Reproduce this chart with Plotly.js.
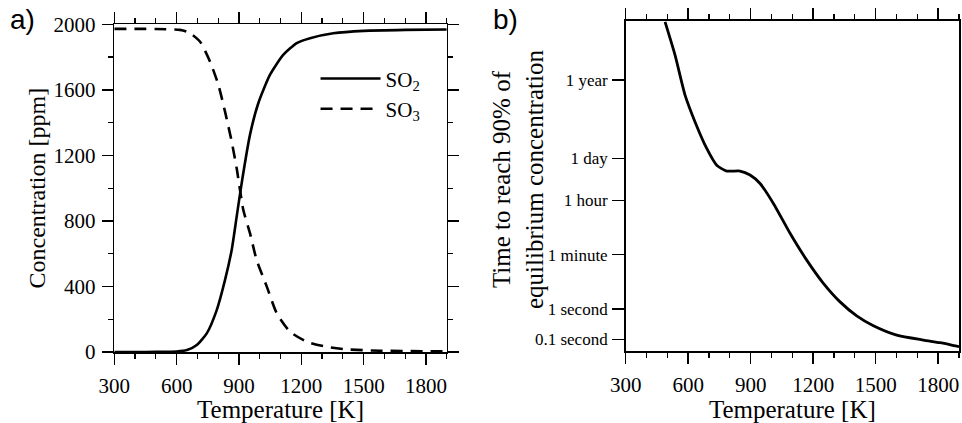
<!DOCTYPE html>
<html>
<head>
<meta charset="utf-8">
<script src="https://cdn.plot.ly/plotly-3.0.1.min.js"></script>
<style>html,body{margin:0;padding:0;background:#fff;}#chart{width:962px;height:423px;}</style>
</head>
<body>
<div id="chart"></div>
<script>
// Panel a) equilibrium concentrations
const tempSO2 = [300, 400, 500, 600, 650, 697, 745, 793, 833, 865, 889, 913, 953, 993, 1049, 1113, 1178, 1242, 1354, 1500, 1700, 1900];
const concSO2 = [0, 0, 1, 3, 12, 43, 114, 256, 440, 623, 826, 1030, 1325, 1518, 1691, 1813, 1885, 1915, 1945, 1960, 1966, 1968];
const tempSO3 = [300, 400, 500, 616, 656, 712, 761, 801, 833, 865, 889, 921, 953, 985, 1034, 1082, 1146, 1226, 1322, 1419, 1579, 1900];
const concSO3 = [1972, 1972, 1971, 1966, 1952, 1895, 1772, 1630, 1467, 1284, 1121, 867, 725, 562, 399, 236, 124, 63, 32, 16, 8, 4];

// Panel b) time to reach 90% of equilibrium (seconds)
const tempTime = [489, 537, 585, 633, 689, 737, 785, 849, 897, 945, 1009, 1089, 1169, 1249, 1329, 1409, 1489, 1601, 1729, 1809, 1889, 1900];
const timeSec = [2.57e9, 2.09e8, 1.02e7, 1.35e6, 1.82e5, 5.13e4, 3.31e4, 3.31e4, 2.45e4, 1.29e4, 2880, 302, 39.8, 6.9, 1.7, 0.59, 0.28, 0.138, 0.095, 0.078, 0.060, 0.058];

const xTickVals = [300, 600, 900, 1200, 1500, 1800];
const timeTickVals = [0.1, 1, 60, 3600, 86400, 31557600];
const timeTickText = ['0.1 second', '1 second', '1 minute', '1 hour', '1 day', '1 year'];

const serif = 'Liberation Serif';
const sans = 'Liberation Sans';

const traces = [
  {x: tempSO2, y: concSO2, type: 'scatter', mode: 'lines', name: 'SO<sub>2</sub>',
   line: {color: '#000', width: 2.6, shape: 'spline', smoothing: 0.6}, xaxis: 'x', yaxis: 'y'},
  {x: tempSO3, y: concSO3, type: 'scatter', mode: 'lines', name: 'SO<sub>3</sub>',
   line: {color: '#000', width: 2.6, dash: '12px,8px', shape: 'spline', smoothing: 0.6}, xaxis: 'x', yaxis: 'y'},
  {x: tempTime, y: timeSec, type: 'scatter', mode: 'lines', name: 'time', showlegend: false,
   line: {color: '#000', width: 2.8, shape: 'spline', smoothing: 0.6}, xaxis: 'x2', yaxis: 'y2'}
];

function xAxis(domain, anchor) {
  return {
    domain: domain, anchor: anchor, range: [300, 1900],
    tickvals: xTickVals, ticks: 'outside', ticklen: 11, tickwidth: 1.5, tickcolor: '#000',
    minor: {dtick: 100, tick0: 300, ticks: 'outside', ticklen: 5, tickwidth: 1.2, tickcolor: '#000'},
    showline: true, linewidth: 1.6, linecolor: '#000', mirror: 'allticks',
    showgrid: false, zeroline: false, ticklabelstandoff: 3,
    tickfont: {family: serif, size: 21, color: '#000'},
    title: {text: 'Temperature [K]', font: {family: serif, size: 25, color: '#000'}, standoff: 2}
  };
}

const layout = {
  width: 962, height: 423,
  margin: {l: 0, r: 0, t: 0, b: 0},
  font: {family: serif, color: '#000'},
  paper_bgcolor: '#fff', plot_bgcolor: '#fff',
  showlegend: true,
  legend: {x: 0.328, y: 0.862, xanchor: 'left', yanchor: 'top', bgcolor: 'rgba(0,0,0,0)',
           font: {family: serif, size: 21, color: '#000'}, itemwidth: 60, tracegroupgap: 0},
  xaxis: xAxis([0.1188, 0.4644], 'y'),
  yaxis: {
    domain: [0.1678, 0.9426], anchor: 'x', range: [0, 2000],
    tick0: 0, dtick: 400, ticks: 'outside', ticklen: 11, tickwidth: 1.5, tickcolor: '#000',
    minor: {dtick: 200, ticks: 'outside', ticklen: 5, tickwidth: 1.2, tickcolor: '#000'},
    showline: true, linewidth: 1.6, linecolor: '#000', mirror: 'allticks',
    showgrid: false, zeroline: false, ticklabelstandoff: 2,
    tickfont: {family: serif, size: 21, color: '#000'},
    title: {text: 'Concentration [ppm]', font: {family: serif, size: 24, color: '#000'}, standoff: 1}
  },
  xaxis2: xAxis([0.6504, 0.9969], 'y2'),
  yaxis2: {
    domain: [0.1702, 0.9504], anchor: 'x2', type: 'log', range: [-1.38, 9.44],
    tickvals: timeTickVals, ticktext: timeTickText,
    ticks: 'outside', ticklen: 12, tickwidth: 1.5, tickcolor: '#000',
    showline: true, linewidth: 1.6, linecolor: '#000', mirror: true,
    showgrid: false, zeroline: false, ticklabelstandoff: 1,
    tickfont: {family: serif, size: 17, color: '#000'}
  },
  annotations: [
    {text: 'Time to reach 90% of<br>equilibrium concentration', xref: 'paper', yref: 'paper',
     x: 0.5385, y: 0.5745, xanchor: 'center', yanchor: 'middle', textangle: -90, showarrow: false,
     font: {family: serif, size: 25, color: '#000'}},
    {text: 'a)', xref: 'paper', yref: 'paper', x: 0.008, y: 0.995, xanchor: 'left', yanchor: 'top', showarrow: false,
     font: {family: sans, size: 28, color: '#000'}},
    {text: 'b)', xref: 'paper', yref: 'paper', x: 0.51, y: 0.995, xanchor: 'left', yanchor: 'top', showarrow: false,
     font: {family: sans, size: 28, color: '#000'}}
  ]
};

Plotly.newPlot('chart', traces, layout, {staticPlot: true, displayModeBar: false});
</script>
</body>
</html>
